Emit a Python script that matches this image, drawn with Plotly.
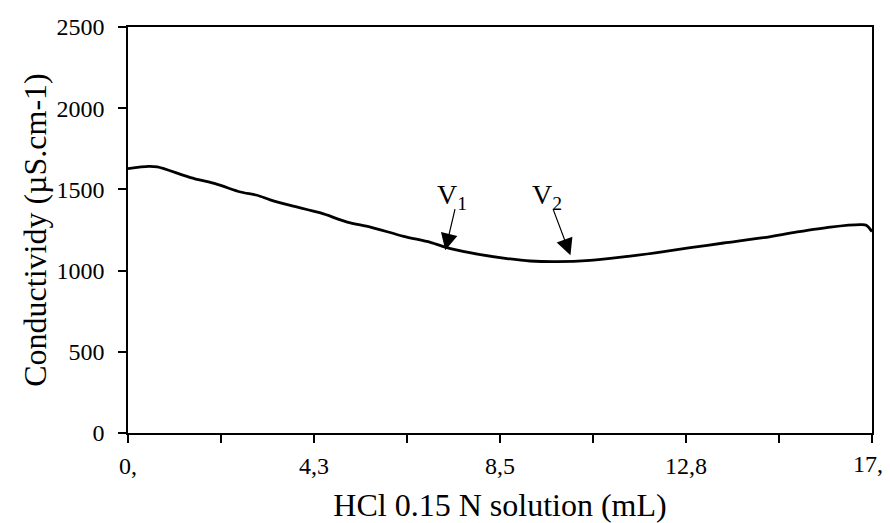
import plotly.graph_objects as go

# Titration curve
volume_ml = [0.0, 0.47, 0.67, 1.43, 2.04, 2.57, 2.95, 3.25, 3.71, 4.40, 5.01, 5.54,
             6.30, 6.91, 7.37, 8.05, 8.66, 9.19, 9.80, 10.56, 11.32, 12.09, 12.85,
             13.61, 14.52, 15.29, 16.05, 16.73, 16.87, 17.0]
conductivity = [1628, 1642, 1638, 1573, 1531, 1484, 1464, 1436, 1402, 1355, 1299, 1268,
                1211, 1174, 1135, 1098, 1074, 1059, 1055, 1063, 1084, 1111, 1141,
                1170, 1203, 1238, 1268, 1283, 1280, 1240]

x_tickvals = [0, 2.125, 4.25, 6.375, 8.5, 10.625, 12.75, 14.875, 17]
x_ticktext = ["0,", "", "4,3", "", "8,5", "", "12,8", "", ""]
last_x_label = "17,"
y_tickvals = [0, 500, 1000, 1500, 2000, 2500]

# Markers: label, arrow tip (x, y), arrow tail (x, y)
markers = ["V<sub>1</sub>", "V<sub>2</sub>"]
tip_x = [7.25, 10.11]
tip_y = [1125, 1094]
tail_x = [7.48, 9.70]
tail_y = [1388, 1388]
label_x = [7.40, 9.58]
label_y = [1335, 1335]

FONT = "Liberation Serif"

fig = go.Figure()
fig.add_trace(go.Scatter(x=volume_ml, y=conductivity, mode="lines",
                         line=dict(color="black", width=2.8, shape="spline", smoothing=0.8),
                         showlegend=False, hoverinfo="skip"))

for i in range(len(markers)):
    fig.add_annotation(x=tip_x[i], y=tip_y[i], ax=tail_x[i], ay=tail_y[i],
                       xref="x", yref="y", axref="x", ayref="y", text="",
                       showarrow=True, arrowhead=2, arrowsize=2.8, arrowwidth=1.2,
                       arrowcolor="black")
    fig.add_annotation(x=label_x[i], y=label_y[i], xref="x", yref="y",
                       text=markers[i], showarrow=False, yanchor="bottom",
                       font=dict(family=FONT, size=28, color="black"))

# last x tick label (kept clear of the right edge)
fig.add_annotation(x=x_tickvals[-1], y=0, xref="x", yref="paper", text=last_x_label,
                   showarrow=False, xanchor="right", xshift=13, yanchor="top", yshift=-16,
                   font=dict(family=FONT, size=24, color="black"))

fig.update_layout(
    width=882, height=515,
    margin=dict(l=119.5, r=18.3, t=18.7, b=90.3, autoexpand=False),
    paper_bgcolor="white", plot_bgcolor="white",
    font=dict(family=FONT, color="black"),
)
fig.update_xaxes(range=[0, 17], tickmode="array", tickvals=x_tickvals, ticktext=x_ticktext,
                 showgrid=False, zeroline=False, showline=True, linecolor="black",
                 linewidth=1.5, mirror=True, ticks="outside", ticklen=8, tickwidth=1.5,
                 tickcolor="black", tickfont=dict(size=24, family=FONT),
                 ticklabelstandoff=2, automargin=False,
                 title=dict(text="HCl 0.15 N solution (mL)", font=dict(size=32, family=FONT),
                            standoff=16))
fig.update_yaxes(range=[0, 2500], tickmode="array", tickvals=y_tickvals,
                 showgrid=False, zeroline=False, showline=True, linecolor="black",
                 linewidth=1.5, mirror=True, ticks="outside", ticklen=8, tickwidth=1.5,
                 tickcolor="black", tickfont=dict(size=24, family=FONT),
                 ticklabelstandoff=9, automargin=False,
                 title=dict(text="Conductividy (µS.cm-1)", font=dict(size=32, family=FONT),
                            standoff=0))

fig.write_html("out.html")
